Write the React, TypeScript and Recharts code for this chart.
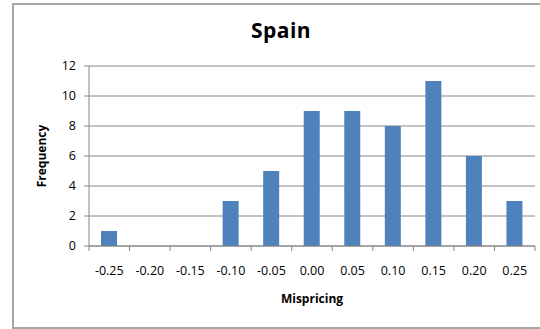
import React from 'react';
import { BarChart, Bar, XAxis, YAxis, CartesianGrid } from 'recharts';

const categories = ['-0.25', '-0.20', '-0.15', '-0.10', '-0.05', '0.00', '0.05', '0.10', '0.15', '0.20', '0.25'];
const frequencies = [1, 0, 0, 3, 5, 9, 9, 8, 11, 6, 3];
const yTicks = [0, 2, 4, 6, 8, 10, 12];

const data = categories.map((c, i) => ({ bin: c, freq: frequencies[i] }));

const W = 540;
const H = 329;
const M = { top: 66, right: 5, left: 0, bottom: 21 };
const Y_W = 89;
const X_H = 62;
const PLOT_W = W - M.left - M.right - Y_W;
const BAND = PLOT_W / categories.length;
const FONT = '"Open Sans", Lato, sans-serif';
const GRAY = '#868686';
const TICK_MARGIN = 17;

const XTick = (props: any) => {
  const { x, y, payload, index } = props;
  const left = x - BAND / 2;
  const right = x + BAND / 2;
  const axisY = y - TICK_MARGIN;
  return (
    <g>
      <line x1={left} x2={left} y1={axisY} y2={axisY + 5} stroke={GRAY} />
      {index === categories.length - 1 && (
        <line x1={right} x2={right} y1={axisY} y2={axisY + 5} stroke={GRAY} />
      )}
      <text x={x} y={y} dy={12} textAnchor="middle" fontSize={12.5} fontFamily={FONT} fill="#000">
        {payload.value}
      </text>
    </g>
  );
};

export default function App() {
  return (
    <div style={{ position: 'absolute', left: 0, top: 0, width: W, height: H, background: '#fff', overflow: 'hidden' }}>
      <div
        style={{
          position: 'absolute',
          left: 12,
          top: 3,
          width: 600,
          height: 322,
          borderLeft: '2px solid #a6a6a6',
          borderTop: '2px solid #a6a6a6',
          borderBottom: '2px solid #a6a6a6',
        }}
      />
      <div
        style={{
          position: 'absolute',
          left: 0,
          width: 562,
          top: 16,
          textAlign: 'center',
          fontFamily: FONT,
          fontWeight: 700,
          fontSize: 21,
          letterSpacing: 0.5,
          lineHeight: '28px',
        }}
      >
        Spain
      </div>
      <div style={{ position: 'absolute', left: 0, top: 0 }}>
        <BarChart width={W} height={H} data={data} margin={M} barSize={16}>
          <CartesianGrid vertical={false} stroke={GRAY} strokeWidth={1} />
          <XAxis
            dataKey="bin"
            height={X_H}
            stroke={GRAY}
            tickLine={false}
            tickSize={0}
            tickMargin={TICK_MARGIN}
            interval={0}
            tick={<XTick />}
            label={{
              value: 'Mispricing',
              position: 'insideBottom',
              offset: 5,
              style: { fontFamily: FONT, fontWeight: 700, fontSize: 12, fill: '#000' },
            }}
          />
          <YAxis
            width={Y_W}
            domain={[0, 12]}
            ticks={yTicks}
            stroke={GRAY}
            tickSize={5}
            tickMargin={8}
            tick={{ fontFamily: FONT, fontSize: 12.5, fill: '#000' }}
            label={{
              value: 'Frequency',
              angle: -90,
              position: 'insideLeft',
              offset: 42,
              style: { fontFamily: FONT, fontWeight: 700, fontSize: 12, fill: '#000', textAnchor: 'middle' },
            }}
          />
          <Bar dataKey="freq" fill="#4F81BD" isAnimationActive={false} />
        </BarChart>
      </div>
    </div>
  );
}
